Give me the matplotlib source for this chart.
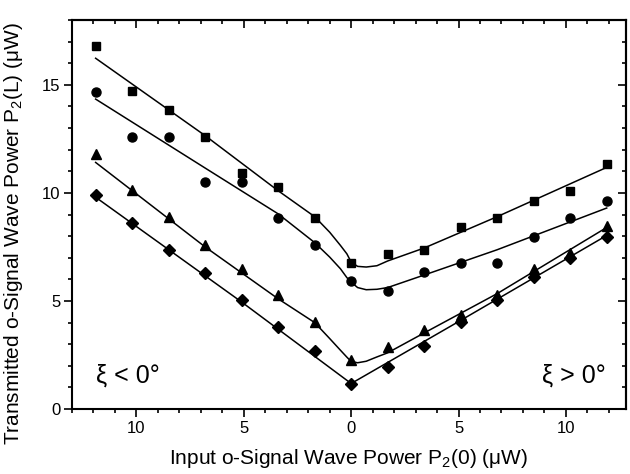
import matplotlib
matplotlib.use("Agg")
import matplotlib.pyplot as plt
from matplotlib.ticker import MultipleLocator, FuncFormatter

plt.rcParams['font.family'] = ['Liberation Sans', 'DejaVu Sans']
plt.rcParams['mathtext.fontset'] = 'custom'
plt.rcParams['mathtext.rm'] = 'Liberation Sans'
plt.rcParams['mathtext.default'] = 'regular'

# input power (negative side = xi < 0, positive side = xi > 0)
x = [-11.9, -10.2, -8.5, -6.8, -5.1, -3.4, -1.7, 0,
     1.7, 3.4, 5.1, 6.8, 8.5, 10.2, 11.9]

squares = [16.8, 14.72, 13.84, 12.6, 10.9, 10.29, 8.85, 6.74,
           7.18, 7.37, 8.41, 8.85, 9.64, 10.1, 11.34]
circles = [14.69, 12.57, 12.57, 10.49, 10.49, 8.85, 7.57, 5.91,
           5.46, 6.34, 6.75, 6.75, 7.98, 8.85, 9.64]
triangles = [11.8, 10.14, 8.87, 7.61, 6.49, 5.26, 4.03, 2.26,
             2.85, 3.65, 4.34, 5.26, 6.49, 7.21, 8.45]
diamonds = [9.88, 8.61, 7.37, 6.29, 5.03, 3.8, 2.68, 1.15,
            1.95, 2.92, 4.03, 5.03, 6.1, 7.0, 7.95]

# fitted curves
fit_x = [-11.9, -6.8, -3.4, -1.7, -1.0, -0.5, -0.2, 0,
         0.3, 0.7, 1.2, 1.7, 3.4, 6.8, 11.9]
fit_sq = [16.23, 12.65, 10.1, 8.9, 8.18, 7.57, 7.18, 6.8,
          6.6, 6.57, 6.63, 6.85, 7.45, 8.9, 11.18]
fit_ci = [14.34, 11.15, 9.03, 7.7, 7.03, 6.49, 6.08, 5.87,
          5.62, 5.52, 5.54, 5.62, 6.2, 7.37, 9.3]
fit_tr = [11.41, 7.5, 5.1, 4.0, 3.26, 2.72, 2.4, 2.2,
          2.14, 2.21, 2.41, 2.6, 3.52, 5.34, 8.4]
fit_di_x = [-11.9, -5.1, 0, 5.1, 11.9]
fit_di = [9.8, 4.95, 1.18, 4.1, 8.03]

fig = plt.figure(figsize=(6.3, 4.74), dpi=100)
ax = fig.add_axes([0.1143, 0.1371, 0.8794, 0.8207])

ax.plot(fit_x, fit_sq, color='black', lw=1.1)
ax.plot(fit_x, fit_ci, color='black', lw=1.1)
ax.plot(fit_x, fit_tr, color='black', lw=1.1)
ax.plot(fit_di_x, fit_di, color='black', lw=1.1)

ax.plot(x, squares, 's', color='black', ms=6.3, ls='none')
ax.plot(x, circles, 'o', color='black', ms=6.5, ls='none')
ax.plot(x, triangles, '^', color='black', ms=7.5, ls='none')
ax.plot(x, diamonds, 'D', color='black', ms=6, ls='none')

ax.set_xlim(-13, 12.8)
ax.set_ylim(0, 18)

ax.xaxis.set_major_locator(MultipleLocator(5))
ax.xaxis.set_minor_locator(MultipleLocator(1))
ax.yaxis.set_major_locator(MultipleLocator(5))
ax.yaxis.set_minor_locator(MultipleLocator(1))
ax.xaxis.set_major_formatter(FuncFormatter(lambda v, p: '%d' % abs(round(v))))

ax.tick_params(which='major', direction='out', length=5.5, width=1.2, labelsize=12, pad=3)
ax.tick_params(which='minor', direction='out', length=3, width=1.2)

top = ax.secondary_xaxis('top')
top.xaxis.set_major_locator(MultipleLocator(5))
top.xaxis.set_minor_locator(MultipleLocator(1))
top.tick_params(which='major', direction='in', length=5.5, width=1.2, labeltop=False)
top.tick_params(which='minor', direction='in', length=3, width=1.2)
right = ax.secondary_yaxis('right')
right.yaxis.set_major_locator(MultipleLocator(5))
right.yaxis.set_minor_locator(MultipleLocator(1))
right.tick_params(which='major', direction='in', length=5.5, width=1.2, labelright=False)
right.tick_params(which='minor', direction='in', length=3, width=1.2)

for s in list(ax.spines.values()) + [top.spines['top'], right.spines['right']]:
    s.set_linewidth(1.5)

ax.set_xlabel('Input o-Signal Wave Power P$_2$(0) (μW)', fontsize=15, labelpad=8)
ax.set_ylabel('Transmitted o-Signal Wave Power P$_2$(L) (μW)', fontsize=15)
ax.yaxis.set_label_coords(-0.085, 0.452)

ax.text(-11.9, 1.55, 'ξ < 0°', fontsize=18, ha='left', va='center')
ax.text(11.85, 1.55, 'ξ > 0°', fontsize=18, ha='right', va='center')

fig.savefig('out.png', dpi=100)
